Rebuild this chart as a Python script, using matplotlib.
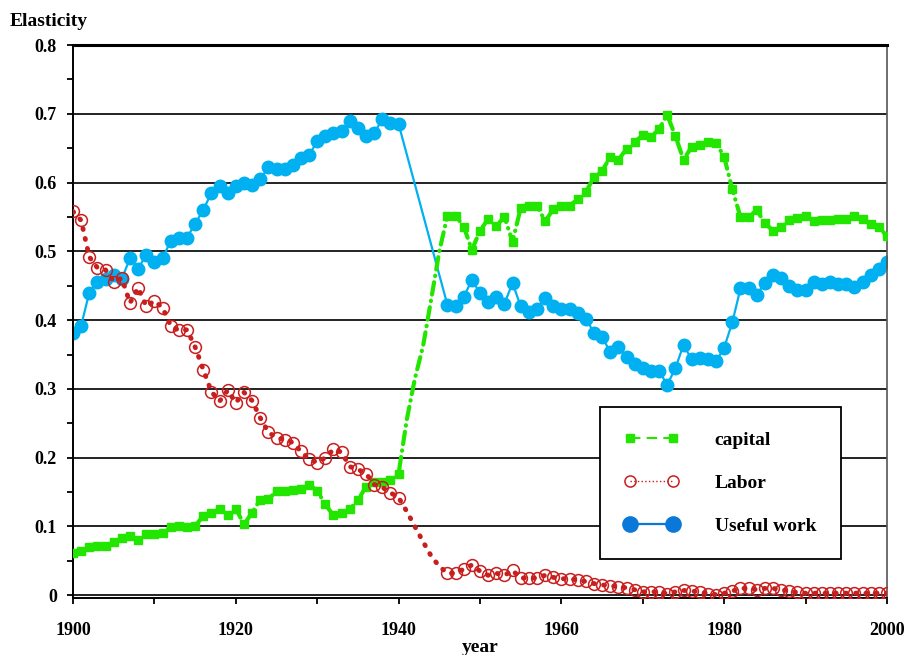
import matplotlib.pyplot as plt
from matplotlib.lines import Line2D
import numpy as np

# years 1900..2000, one value per year
years = list(range(1900, 2001))
gap_years = [1941, 1942, 1943, 1944, 1945]

capital = [0.061, 0.065, 0.070, 0.072, 0.072, 0.077, 0.083, 0.086, 0.081, 0.089,
           0.089, 0.091, 0.099, 0.101, 0.099, 0.101, 0.115, 0.120, 0.125, 0.117,
           0.126, 0.103, 0.120, 0.139, 0.140, 0.151, 0.152, 0.153, 0.154, 0.161,
           0.152, 0.132, 0.116, 0.119, 0.125, 0.138, 0.158, 0.164, 0.164, 0.168,
           0.177, 0.255, 0.315, 0.362, 0.430, 0.500, 0.552, 0.552, 0.536, 0.502,
           0.530, 0.547, 0.537, 0.550, 0.514, 0.563, 0.566, 0.566, 0.544, 0.561,
           0.566, 0.566, 0.576, 0.586, 0.608, 0.617, 0.637, 0.633, 0.649, 0.659,
           0.669, 0.666, 0.678, 0.698, 0.668, 0.633, 0.652, 0.654, 0.659, 0.658,
           0.637, 0.590, 0.550, 0.550, 0.560, 0.541, 0.530, 0.535, 0.545, 0.549,
           0.551, 0.544, 0.545, 0.545, 0.547, 0.547, 0.551, 0.547, 0.540, 0.535,
           0.522]

labor = [0.558, 0.545, 0.492, 0.476, 0.473, 0.456, 0.461, 0.425, 0.447, 0.420,
         0.428, 0.418, 0.392, 0.385, 0.386, 0.361, 0.328, 0.296, 0.282, 0.298,
         0.280, 0.295, 0.283, 0.258, 0.237, 0.229, 0.226, 0.222, 0.209, 0.198,
         0.193, 0.200, 0.212, 0.208, 0.187, 0.183, 0.177, 0.161, 0.157, 0.149,
         0.142, 0.122, 0.100, 0.078, 0.057, 0.042, 0.032, 0.032, 0.038, 0.044,
         0.035, 0.029, 0.032, 0.029, 0.036, 0.025, 0.025, 0.025, 0.029, 0.026,
         0.024, 0.024, 0.022, 0.020, 0.017, 0.015, 0.014, 0.012, 0.011, 0.008,
         0.005, 0.005, 0.005, 0.002, 0.005, 0.007, 0.006, 0.005, 0.002, 0.001,
         0.003, 0.006, 0.010, 0.010, 0.008, 0.010, 0.010, 0.008, 0.006, 0.004,
         0.003, 0.003, 0.003, 0.003, 0.003, 0.003, 0.003, 0.003, 0.003, 0.003,
         0.003]

useful_work = [0.382, 0.392, 0.440, 0.455, 0.460, 0.465, 0.460, 0.490, 0.475, 0.495,
               0.485, 0.490, 0.515, 0.520, 0.520, 0.540, 0.560, 0.585, 0.595, 0.585,
               0.595, 0.600, 0.597, 0.605, 0.622, 0.620, 0.620, 0.625, 0.636, 0.640,
               0.660, 0.667, 0.672, 0.675, 0.690, 0.680, 0.667, 0.672, 0.692, 0.686,
               0.685, None, None, None, None, None, 0.422, 0.420, 0.434, 0.458,
               0.440, 0.427, 0.434, 0.424, 0.454, 0.420, 0.412, 0.416, 0.432, 0.420,
               0.416, 0.416, 0.410, 0.402, 0.382, 0.375, 0.354, 0.361, 0.346, 0.336,
               0.330, 0.326, 0.326, 0.306, 0.330, 0.364, 0.343, 0.345, 0.343, 0.340,
               0.360, 0.397, 0.446, 0.446, 0.437, 0.454, 0.465, 0.461, 0.450, 0.444,
               0.444, 0.455, 0.452, 0.455, 0.452, 0.452, 0.448, 0.455, 0.466, 0.475,
               0.484]

plt.rcParams['font.family'] = 'Liberation Serif'
plt.rcParams['font.weight'] = 'bold'

fig = plt.figure(figsize=(9.06, 6.55), dpi=100)
ax = fig.add_axes([73 / 906, 57 / 655, 814 / 906, 553 / 655])

green = '#22e600'
red = '#c81e1e'
blue = '#00b0f0'
blue_leg = '#0a78d8'

marks = [i for i, y in enumerate(years) if y not in gap_years]

uw_x = [y for y, v in zip(years, useful_work) if v is not None]
uw_y = [v for v in useful_work if v is not None]

cap_ls = (0, (3, 1.5, 0.1, 1.5))
lab_ls = (0, (0.2, 1.9))

ax.plot(years, capital, color=green, lw=3, ls=cap_ls,
        dash_capstyle='round', marker='s', ms=5.5, markevery=marks,
        mec=green, mfc=green, zorder=3)
ax.plot(years, labor, color=red, lw=3.5, ls=lab_ls,
        dash_capstyle='round', marker='o', ms=8.5, markevery=marks,
        mfc='none', mec=red, mew=1.1, zorder=4)
ax.plot(uw_x, uw_y, color=blue, lw=1.6, marker='o', ms=9,
        mfc=blue, mec=blue, zorder=2)

ax.set_xlim(1900, 2000)
ax.set_ylim(-0.004, 0.8)
ax.set_xticks([1900, 1920, 1940, 1960, 1980, 2000])
ax.set_xticks(np.arange(1910, 2000, 20), minor=True)
ax.set_yticks(np.arange(0, 0.81, 0.1))
ax.set_yticks(np.arange(0.05, 0.8, 0.1), minor=True)
ax.set_yticklabels(['0', '0.1', '0.2', '0.3', '0.4', '0.5', '0.6', '0.7', '0.8'])
ax.tick_params(axis='both', which='both', direction='out', width=1.3,
               labelsize=13, color='black')
ax.tick_params(axis='x', which='both', length=4, pad=13.5)
ax.tick_params(axis='y', which='both', length=4.5, pad=7, right=False)
for lab in ax.get_xticklabels() + ax.get_yticklabels():
    lab.set_fontweight('bold')

ax.grid(axis='y', which='major', color='#222222', lw=1.4)
ax.set_axisbelow(True)
ax.spines['top'].set_linewidth(2.2)
ax.spines['left'].set_linewidth(1.4)
ax.spines['bottom'].set_linewidth(1.4)
ax.spines['right'].set_linewidth(1.2)
ax.spines['right'].set_color('#555555')

ax.set_xlabel('year', fontsize=14, fontweight='bold', labelpad=0)
fig.text(0.011, 0.967, 'Elasticity', fontsize=14, fontweight='bold', ha='left', va='center')

handles = [
    Line2D([], [], color=green, lw=1.5, ls=(0, (5, 3)), marker='s', ms=5.5,
           mfc=green, mec=green),
    Line2D([], [], color=red, lw=1, ls=':', marker='o', ms=8,
           mfc='none', mec=red, mew=1.1),
    Line2D([], [], color=blue_leg, lw=1.6, marker='o', ms=11,
           mfc=blue_leg, mec=blue_leg),
]
leg = ax.legend(handles, ['capital', 'Labor', 'Useful work'], loc='upper left',
                bbox_to_anchor=(527 / 814, 191 / 553), numpoints=2,
                fontsize=14, frameon=True, fancybox=False, handlelength=2.8,
                handletextpad=1.85, borderpad=1.25, labelspacing=1.3,
                borderaxespad=0)
leg.get_frame().set_edgecolor('black')
leg.get_frame().set_linewidth(1.3)
leg.get_frame().set_alpha(1)
for t in leg.get_texts():
    t.set_fontweight('bold')

fig.savefig('out.png', dpi=100)
